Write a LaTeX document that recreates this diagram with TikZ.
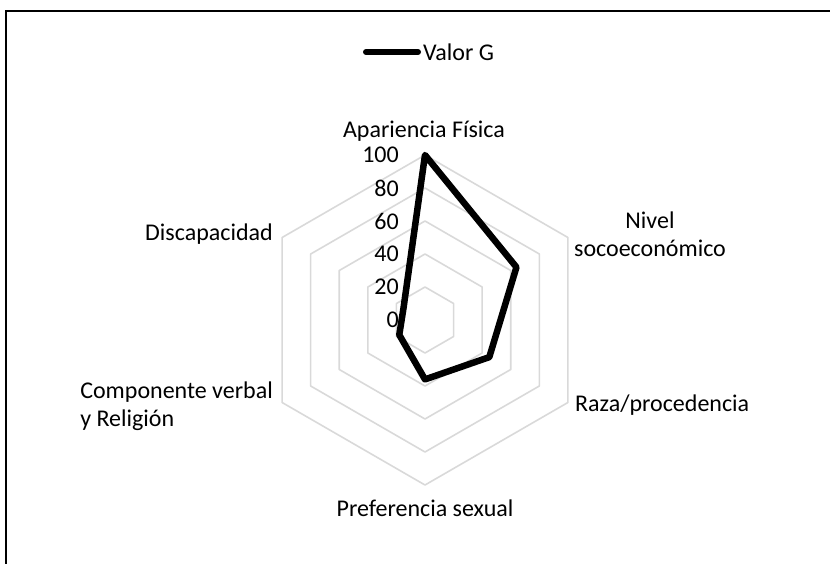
\documentclass[tikz,border=0pt]{standalone}
\usepackage{fontspec}
\setmainfont{Carlito}
\begin{document}
\begin{tikzpicture}[x=1pt,y=-1pt,
  grid/.style={draw={rgb,255:red,217;green,217;blue,217},line width=1.6pt,line join=round},
  series/.style={draw=black,line width=6.5pt,line join=round,line cap=round},
  lbl/.style={font=\fontsize{24}{28}\selectfont,inner sep=0pt},
  tick/.style={font=\fontsize{24}{28}\selectfont,inner sep=0pt,anchor=east}]
\useasboundingbox (0,0) rectangle (830,563);
\begin{scope}
\clip (0,0) rectangle (830,563);
\draw[line width=1.5pt] (6,600) -- (6,11) -- (900,11);
\end{scope}
% grid hexagons
\foreach \k in {1,...,5}{
  \draw[grid] ({425+33*\k*cos(90)},{320-33*\k*sin(90)})
    -- ({425+33*\k*cos(30)},{320-33*\k*sin(30)})
    -- ({425+33*\k*cos(-30)},{320-33*\k*sin(-30)})
    -- ({425+33*\k*cos(-90)},{320-33*\k*sin(-90)})
    -- ({425+33*\k*cos(-150)},{320-33*\k*sin(-150)})
    -- ({425+33*\k*cos(150)},{320-33*\k*sin(150)}) -- cycle;
}
% data
\coordinate (p1) at ({425+165*1.00*cos(90)},{320-165*1.00*sin(90)});
\coordinate (p2) at ({425+165*0.64*cos(30)},{320-165*0.64*sin(30)});
\coordinate (p3) at ({425+165*0.45*cos(-30)},{320-165*0.45*sin(-30)});
\coordinate (p4) at ({425+165*0.36*cos(-90)},{320-165*0.36*sin(-90)});
\coordinate (p5) at ({425+165*0.18*cos(-150)},{320-165*0.18*sin(-150)});
\coordinate (p6) at ({425+165*0.15*cos(150)},{320-165*0.15*sin(150)});
\draw[series] (p1) -- (p2) -- (p3) -- (p4) -- (p5) -- (p6) -- cycle;
% tick labels
\node[tick] (t100) at (399,155) {100};
\node[tick] (t80) at (399,188) {80};
\node[tick] (t60) at (399,221) {60};
\node[tick] (t40) at (399,254) {40};
\node[tick] (t20) at (399,287) {20};
\node[tick] (t0) at (399,320) {0};
% axis labels
\node[lbl] (a1) at (424,131) {Apariencia Física};
\node[lbl,align=center] (a2) at (650,234) {Nivel\\socoeconómico};
\node[lbl,anchor=west] (a3) at (575,405) {Raza/procedencia};
\node[lbl] (a4) at (425,508) {Preferencia sexual};
\node[lbl,align=left,anchor=east] (a5) at (273,406) {Componente verbal\\y Religión};
\node[lbl,anchor=east] (a6) at (273,234) {Discapacidad};
% legend
\coordinate (l1) at (366,52);
\coordinate (l2) at (418,52);
\draw[series,line width=6pt] (l1) -- (l2);
\node[lbl,anchor=west] (lt) at (423,52) {Valor G};
\end{tikzpicture}
\end{document}
